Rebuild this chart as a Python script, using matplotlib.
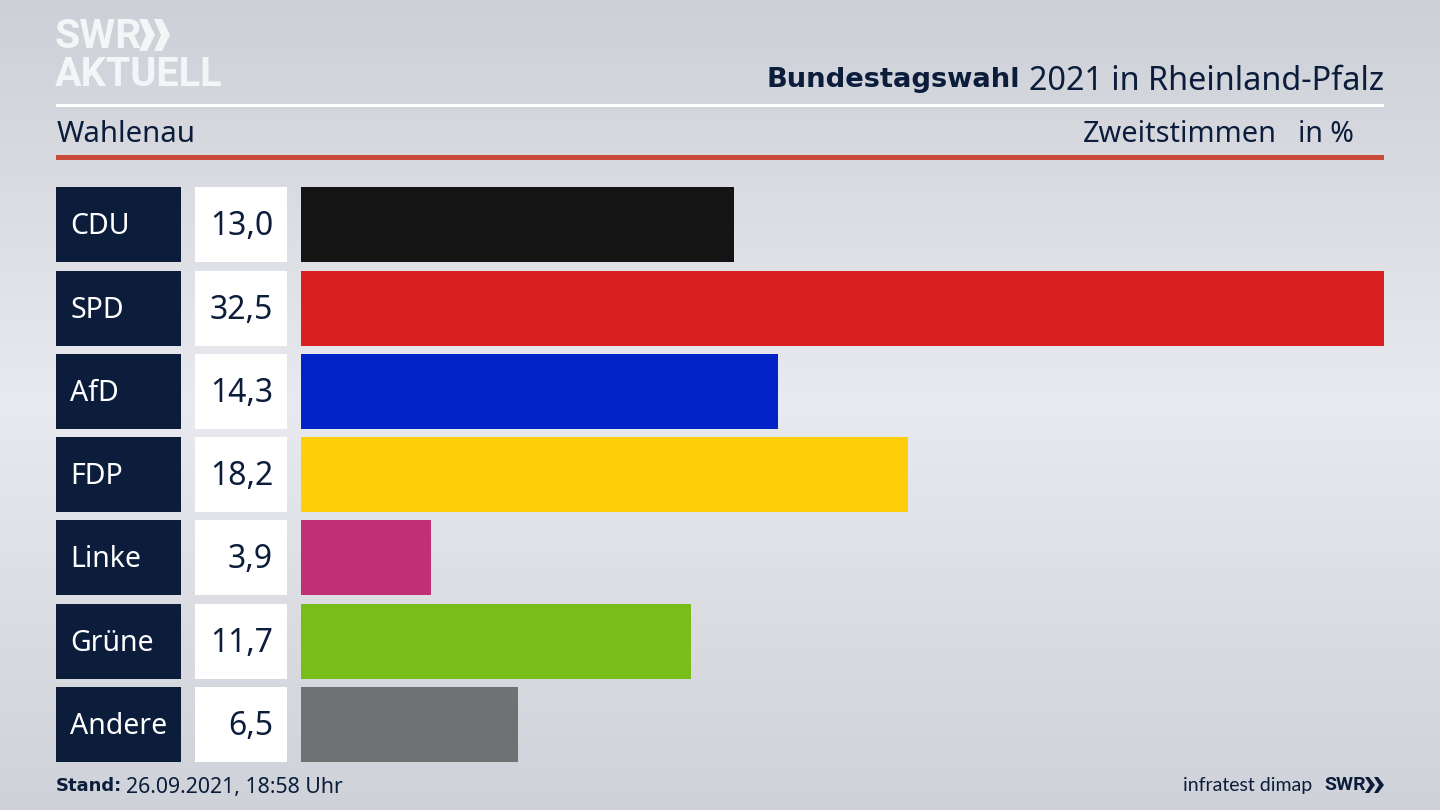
import numpy as np
import matplotlib
matplotlib.use("Agg")
import matplotlib.pyplot as plt
from matplotlib.patches import Rectangle, Polygon
from matplotlib.colors import LinearSegmentedColormap

parties = ["CDU", "SPD", "AfD", "FDP", "Linke", "Grüne", "Andere"]
shares = [13.0, 32.5, 14.3, 18.2, 3.9, 11.7, 6.5]
share_labels = ["13,0", "32,5", "14,3", "18,2", "3,9", "11,7", "6,5"]
bar_colors = ["#141414", "#d9201f", "#0323c6", "#ffcd09", "#bf3074", "#79bd1a", "#707173"]

NAVY = "#0b1d3b"
FONT = "Noto Sans"
BOLD = "DejaVu Sans"
plt.rcParams["font.family"] = [FONT, "DejaVu Sans"]

W, H = 1440, 810
fig = plt.figure(figsize=(14.4, 8.1), dpi=100)

# Full-figure overlay in pixel coordinates
bg = fig.add_axes([0, 0, 1, 1])
bg.set_xlim(0, W)
bg.set_ylim(H, 0)
bg.axis("off")
cmap = LinearSegmentedColormap.from_list(
    "bg", [(0, "#cdd0d7"), (0.2, "#d8dae0"), (0.5, "#e9eaef"), (0.8, "#d9dbe1"), (1, "#cfd2d8")])
bg.imshow(np.linspace(0, 1, 256)[:, None], cmap=cmap, aspect="auto",
          extent=(0, W, H, 0), zorder=0, vmin=0, vmax=1)

# Header rules
bg.add_patch(Rectangle((56, 104), 1328, 3, color="white", lw=0, zorder=2))
bg.add_patch(Rectangle((56, 155), 1328, 5, color="#c94b3a", lw=0, zorder=2))

# Logo
LOGO = "#f4f5f7"
bg.text(55, 37, "SWR", color=LOGO, fontsize=29.5, fontweight="bold",
        family="Roboto", va="center", ha="left", zorder=3)
for x0 in (139, 154):
    bg.add_patch(Polygon([(x0, 19), (x0 + 8, 19), (x0 + 16, 35), (x0 + 8, 51), (x0, 51), (x0 + 7, 35)],
                         closed=True, color=LOGO, lw=0, zorder=3))
bg.text(55, 75, "AKTUELL", color=LOGO, fontsize=28.5, fontweight="bold",
        family="Roboto", va="center", ha="left", zorder=3)

# Title
bg.text(1384, 81, "2021 in Rheinland-Pfalz", color=NAVY, fontsize=23.3,
        ha="right", va="center", zorder=3)
bg.text(1020, 80, "Bundestagswahl", color=NAVY, fontsize=19.7, fontweight="bold", family=BOLD,
        ha="right", va="center", zorder=3)
bg.text(57, 135, "Wahlenau", color=NAVY, fontsize=21.2, ha="left", va="center", zorder=3)
bg.text(1277, 135, "Zweitstimmen", color=NAVY, fontsize=20.8, ha="right", va="center", zorder=3)
bg.text(1354, 135, "in %", color=NAVY, fontsize=20.5, ha="right", va="center", zorder=3)

# Footer
bg.text(56, 786, "Stand:", color=NAVY, fontsize=13, fontweight="bold", family=BOLD,
        ha="left", va="center", zorder=3)
bg.text(126, 788, "26.09.2021, 18:58 Uhr", color=NAVY, fontsize=15.3, ha="left", va="center", zorder=3)
bg.text(1312, 786, "infratest dimap", color=NAVY, fontsize=14, family="Lato", ha="right", va="center", zorder=3)
bg.text(1324, 785, "SWR", color=NAVY, fontsize=14, fontweight="bold", family="Roboto",
        ha="left", va="center", zorder=3)
for x0 in (1365, 1374):
    bg.add_patch(Polygon([(x0, 777), (x0 + 4, 777), (x0 + 10, 785), (x0 + 4, 793), (x0, 793), (x0 + 5, 785)],
                         closed=True, color=NAVY, lw=0, zorder=3))

# Bars
top, step, bar_h = 187.4, 83.25, 75
y_pos = np.arange(len(parties))
ax = fig.add_axes([301.4 / W, 1 - (top + 6 * step + bar_h) / H, (1384 - 301.4) / W, (6 * step + bar_h) / H])
ax.patch.set_alpha(0)
ax.set_xlim(0, max(shares))
ax.set_ylim(len(parties) - 1 + bar_h / step / 2, -bar_h / step / 2)
ax.barh(y_pos, shares, height=bar_h / step, color=bar_colors, linewidth=0)
ax.axis("off")

# Row labels
for i, (p, lab) in enumerate(zip(parties, share_labels)):
    y0 = top + i * step
    bg.add_patch(Rectangle((56, y0), 125, bar_h, color=NAVY, lw=0, zorder=2))
    bg.add_patch(Rectangle((195, y0), 92, bar_h, color="white", lw=0, zorder=2))
    bg.text(70, y0 + bar_h / 2 + 2, p, color="white", fontsize=20.5, ha="left", va="center", zorder=3)
    bg.text(273, y0 + bar_h / 2 + 2, lab, color=NAVY, fontsize=23, ha="right", va="center", zorder=3)

fig.savefig("out.png", dpi=100)
